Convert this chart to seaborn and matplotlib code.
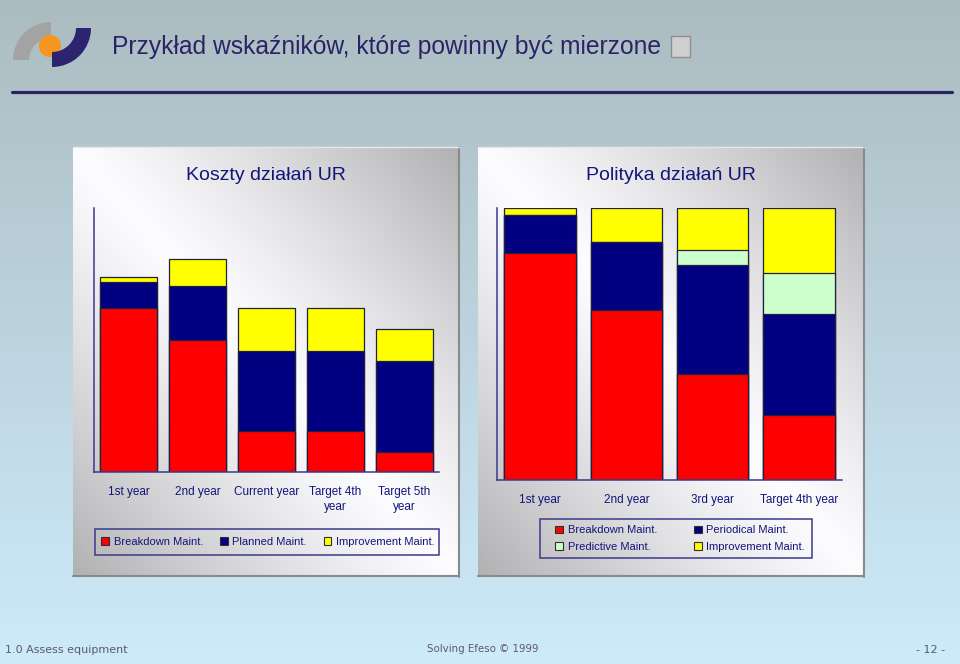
import numpy as np
import matplotlib
matplotlib.use("Agg")
import matplotlib.pyplot as plt
import matplotlib.patches as mpatches
import seaborn as sns

# --- data -------------------------------------------------------------
cost_years = ["1st year", "2nd year", "Current year", "Target 4th\nyear", "Target 5th\nyear"]
cost_breakdown = [62, 50, 15.5, 15.5, 7.5]
cost_planned = [10, 20.5, 30.5, 30.5, 34.5]
cost_improvement = [2, 10, 16, 16, 12]

policy_years = ["1st year", "2nd year", "3rd year", "Target 4th year"]
policy_breakdown = [83.5, 62.5, 39, 24]
policy_periodical = [14, 25, 40, 37]
policy_predictive = [0, 0, 5.5, 15]
policy_improvement = [2.5, 12.5, 15.5, 24]

title = "Przykład wskaźników, które powinny być mierzone"
left_title = "Koszty działań UR"
right_title = "Polityka działań UR"

RED, NAVY, YELLOW, MINT = "#ff0000", "#000080", "#ffff00", "#ccffcc"
TXT = "#14147a"
AX = "#3a3a8c"
EDGE = "#202040"

sns.set_style("white")
plt.rcParams["font.family"] = ["Liberation Sans", "DejaVu Sans"]

W, H = 960, 664
fig = plt.figure(figsize=(W / 100, H / 100), dpi=100)

# background axes in pixel coords
bg = fig.add_axes([0, 0, 1, 1])
bg.axis("off")

top = np.array([172, 188, 193]) / 255
bot = np.array([205, 235, 251]) / 255
t = np.linspace(0, 1, 200)[:, None]
grad = (top[None, :] * (1 - t) + bot[None, :] * t)[:, None, :]
bg.imshow(grad, extent=[0, W, H, 0], aspect="auto", zorder=0)


# panels with diagonal gradient
def panel(x0, x1, y0, y1):
    w, h = 200, 220
    px = np.linspace(0, 1, w)[None, :]
    py = np.linspace(0, 1, h)[:, None]
    d = np.abs(px - py)
    b = 1 - 0.30 * d ** 1.2
    img = np.dstack([b * 0.99, b * 0.99, b])
    bg.imshow(img, extent=[x0, x1, y1, y0], aspect="auto", zorder=1)
    bg.plot([x1, x1], [y0, y1 + 1], color="#8a8a8a", lw=1.5, zorder=2)
    bg.plot([x0, x1], [y1, y1], color="#8a8a8a", lw=1.5, zorder=2)
    bg.plot([x0, x1], [y0, y0], color="#e8e8e8", lw=1, zorder=2)


panel(73, 459, 147, 576)
panel(478, 864, 147, 576)
bg.set_xlim(0, W)
bg.set_ylim(H, 0)

# logo
bg.add_patch(mpatches.Wedge((51, 60), 38, 180, 270, width=16,
                            facecolor="#a3a3a3", edgecolor="none", zorder=3))
bg.add_patch(mpatches.Circle((50, 46), 11, facecolor="#f7961e", edgecolor="none", zorder=4))
bg.add_patch(mpatches.Wedge((52, 28), 39, 0, 90, width=15,
                            facecolor="#2d2470", edgecolor="none", zorder=5))

bg.text(112, 47, title, fontsize=17.7, color="#2a2466", va="center", ha="left", zorder=5)
bg.add_patch(mpatches.Rectangle((671, 36), 19, 21, facecolor="#cfcfcf", edgecolor="#8e8e8e",
                                lw=1, zorder=5))
bg.plot([12, 952], [92, 92], color="#2a2466", lw=2.3, zorder=5)

# footer
ft = dict(color="#5a5a6a", va="center", family=["DejaVu Sans"], zorder=5)
bg.text(5, 650, "1.0 Assess equipment", ha="left", fontsize=8, **ft)
bg.text(483, 649, "Solving Efeso \u00a9 1999", ha="center", fontsize=7.4, **ft)
bg.text(945, 650, "- 12 -", ha="right", fontsize=8, **ft)

# chart titles
bg.text(266, 176, left_title, fontsize=14, color=TXT, ha="center", va="center", zorder=5)
bg.text(671, 176, right_title, fontsize=14, color=TXT, ha="center", va="center", zorder=5)


def stacked(ax, cats, layers, colors):
    cum = np.zeros(len(cats))
    totals = []
    for vals in layers:
        cum = cum + np.array(vals, dtype=float)
        totals.append(cum.copy())
    for vals, col in reversed(list(zip(totals, colors))):
        sns.barplot(x=cats, y=vals, color=col, order=cats, width=0.83, edgecolor=EDGE,
                    linewidth=0.9, saturation=1, ax=ax)
    n = len(cats)
    ax.set_xlim(-0.5, n - 0.5)
    ax.set_ylim(0, 100)
    ax.set_facecolor("none")
    for s in ["top", "right"]:
        ax.spines[s].set_visible(False)
    for s in ["left", "bottom"]:
        ax.spines[s].set_color(AX)
        ax.spines[s].set_linewidth(1.1)
    ax.set_yticks([])
    ax.set_xticks(np.arange(n + 1) - 0.5)
    ax.set_xticklabels([])
    ax.tick_params(axis="x", which="major", direction="out", length=4, color=AX, width=1)
    ax.set_xticks(np.arange(n), minor=True)
    ax.set_xticklabels(cats, minor=True, fontsize=8.5, color=TXT, linespacing=1.35)
    ax.tick_params(axis="x", which="minor", length=0, pad=10)
    ax.set_xlabel("")
    ax.set_ylabel("")


ax1 = fig.add_axes([94 / W, (H - 472) / H, 345 / W, 264 / H])
stacked(ax1, cost_years, [cost_breakdown, cost_planned, cost_improvement], [RED, NAVY, YELLOW])

ax2 = fig.add_axes([497 / W, (H - 480) / H, 345 / W, 272 / H])
stacked(ax2, policy_years, [policy_breakdown, policy_periodical, policy_predictive, policy_improvement],
        [RED, NAVY, MINT, YELLOW])


def patch(c, lab):
    return mpatches.Patch(facecolor=c, edgecolor="#303030", lw=0.8, label=lab)


leg_kw = dict(loc="center", mode="expand", borderaxespad=0, fontsize=8, frameon=False,
              handlelength=0.7, handleheight=0.7, handletextpad=0.4, labelcolor=TXT,
              bbox_transform=fig.transFigure)

fig.legend(handles=[patch(RED, "Breakdown Maint."), patch(NAVY, "Planned Maint."),
                    patch(YELLOW, "Improvement Maint.")],
           ncol=3, bbox_to_anchor=(97 / W, 1 - 555 / H, 342 / W, 26 / H),
           borderpad=0.4, columnspacing=1.0, **leg_kw)
bg.add_patch(mpatches.Rectangle((95, 529), 344, 26, facecolor="none", edgecolor=AX,
                                lw=1.1, zorder=6))

fig.legend(handles=[patch(RED, "Breakdown Maint."), patch(MINT, "Predictive Maint."),
                    patch(NAVY, "Periodical Maint."), patch(YELLOW, "Improvement Maint.")],
           ncol=2, bbox_to_anchor=(552 / W, 1 - 558 / H, 256 / W, 39 / H),
           borderpad=0.3, labelspacing=0.55, columnspacing=1.0, **leg_kw)
bg.add_patch(mpatches.Rectangle((540, 519), 272, 39, facecolor="none", edgecolor=AX,
                                lw=1.1, zorder=6))

fig.savefig("out.png", dpi=100)
